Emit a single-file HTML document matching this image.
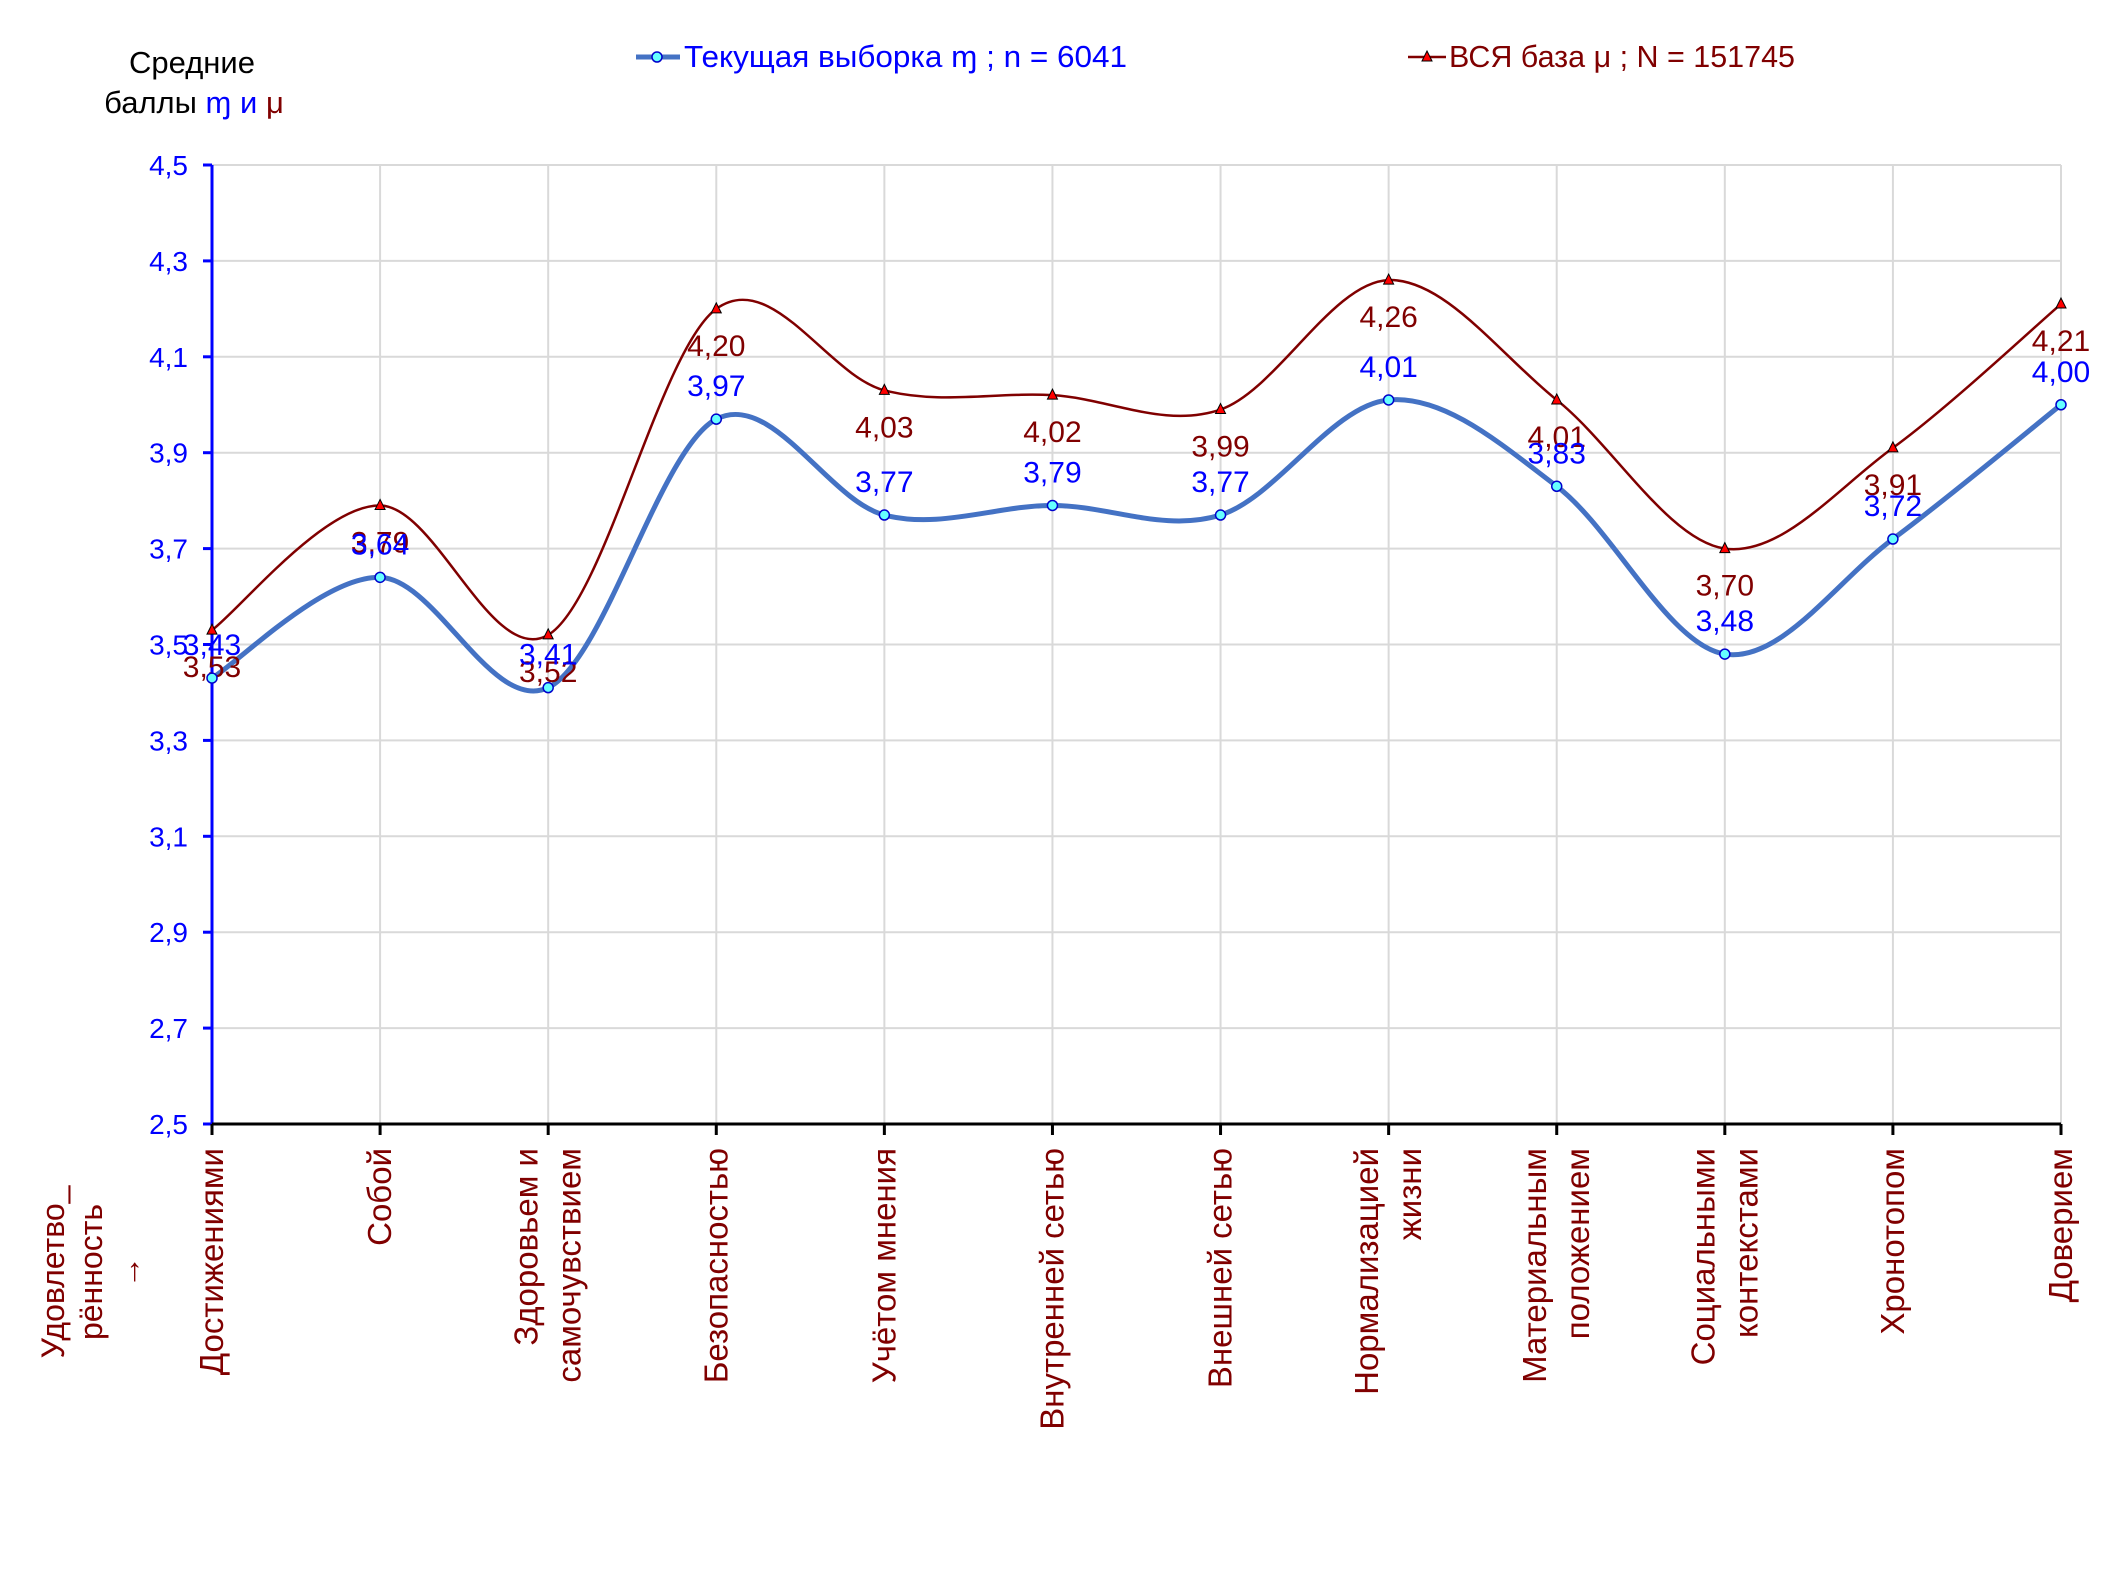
<!DOCTYPE html>
<html><head><meta charset="utf-8">
<style>
html,body{margin:0;padding:0;background:#fff;}
svg{display:block;}
.n{font-family:"Liberation Sans Narrow","Liberation Sans",sans-serif;}
.w{font-family:"Liberation Sans",sans-serif;}
</style></head>
<body>
<svg id="chart" width="2126" height="1595" viewBox="0 0 2126 1595" xmlns="http://www.w3.org/2000/svg">
<g id="grid"></g>
<g id="yaxis"></g>
<g id="xaxis"></g>
<g id="series"></g>
<text class="n" x="192" y="73" font-size="31" text-anchor="middle" fill="#000">Средние</text>
<text class="n" x="194" y="113" font-size="31" text-anchor="middle" fill="#000">баллы <tspan fill="#0000ff">ɱ</tspan> <tspan fill="#0000ff">и</tspan> <tspan fill="#800000">μ</tspan></text>
<g>
<line x1="636" y1="57" x2="680" y2="57" stroke="#4472c4" stroke-width="5"/>
<circle cx="657" cy="57" r="5" fill="#66ffff" stroke="#0000cc" stroke-width="1.5"/>
<text class="n" x="684" y="67" font-size="31" fill="#0000ff" textLength="443" lengthAdjust="spacingAndGlyphs">Текущая выборка ɱ ; n = 6041</text>
</g>
<g>
<line x1="1408" y1="57" x2="1446" y2="57" stroke="#800000" stroke-width="2.5"/>
<path d="M1427,51 L1432,61 L1422,61 Z" fill="#ff0000" stroke="#000" stroke-width="1"/>
<text class="n" x="1449" y="67" font-size="31" fill="#800000" textLength="346" lengthAdjust="spacingAndGlyphs">ВСЯ база μ ; N = 151745</text>
</g>
<g transform="translate(0,1272) rotate(-90)" fill="#800000" font-size="32" class="w" text-anchor="middle">
<text x="0" y="64">Удовлетво_</text>
<text x="0" y="102">рённость</text>
<text x="0" y="140">→</text>
</g>
</svg>
<script>
const categories=[["Достижениями"],["Собой"],["Здоровьем и","самочувствием"],["Безопасностью"],["Учётом мнения"],["Внутренней сетью"],["Внешней сетью"],["Нормализацией","жизни"],["Материальным","положением"],["Социальными","контекстами"],["Хронотопом"],["Доверием"]];
const currentValues=[3.43,3.64,3.41,3.97,3.77,3.79,3.77,4.01,3.83,3.48,3.72,4.00];
const allValues=[3.53,3.79,3.52,4.20,4.03,4.02,3.99,4.26,4.01,3.70,3.91,4.21];
const yTicks=[2.5,2.7,2.9,3.1,3.3,3.5,3.7,3.9,4.1,4.3,4.5];

const NS="http://www.w3.org/2000/svg";
const L=212,R=2061,T=165,B=1124,YMIN=2.5,YMAX=4.5;
const xs=i=>L+(R-L)*i/(categories.length-1);
const ys=v=>B-(v-YMIN)/(YMAX-YMIN)*(B-T);
function mk(tag,attrs,parent){const e=document.createElementNS(NS,tag);for(const k in attrs)e.setAttribute(k,attrs[k]);parent.appendChild(e);return e;}
const grid=document.getElementById('grid'),yax=document.getElementById('yaxis'),xax=document.getElementById('xaxis'),ser=document.getElementById('series');
const fmt=v=>v.toFixed(2).replace('.',',');
yTicks.forEach(t=>{
  const y=ys(t);
  if(t>YMIN){const g=mk('line',{x1:L,x2:R,y1:y,y2:y,stroke:'#d9d9d9','stroke-width':2},grid);
  
  }
  const tk=mk('line',{x1:L-9,x2:L,y1:y,y2:y,stroke:'#0000ff','stroke-width':3},yax);
  
  
  const lb=mk('text',{x:188,y:y+10,'font-size':28,'text-anchor':'end',fill:'#0000ff','class':'n'},yax);
  lb.textContent=t.toFixed(1).replace('.',',');
  
  
});
categories.forEach((c,i)=>{
  const x=xs(i);
  if(i>0){const g=mk('line',{x1:x,x2:x,y1:T,y2:B,stroke:'#d9d9d9','stroke-width':2},grid);
  
  }
  const tk=mk('line',{x1:x,x2:x,y1:B,y2:B+11,stroke:'#000','stroke-width':3},xax);
  
  
  const g=mk('g',{transform:`translate(${x},1148) rotate(-90)`,fill:'#800000','font-size':33,'class':'w','text-anchor':'end'},xax);
  
  
  const n=c.length;
  c.forEach((s,j)=>{const t=mk('text',{x:0,y:11+(j-(n-1)/2)*43},g);t.textContent=s;});
});
const ya=mk('line',{x1:L,x2:L,y1:T,y2:B,stroke:'#0000ff','stroke-width':3},yax);


const xa=mk('line',{x1:L,x2:R,y1:B,y2:B,stroke:'#000','stroke-width':3},xax);



function smooth(vals){
  const p=vals.map((v,i)=>[xs(i),ys(v)]);
  let d=`M${p[0][0]},${p[0][1]}`;
  for(let i=0;i<p.length-1;i++){
    const p0=p[i-1]||p[i],p1=p[i],p2=p[i+1],p3=p[i+2]||p[i+1];
    const c1=[p1[0]+(p2[0]-p0[0])/6,p1[1]+(p2[1]-p0[1])/6];
    const c2=[p2[0]-(p3[0]-p1[0])/6,p2[1]-(p3[1]-p1[1])/6];
    d+=` C${c1[0]},${c1[1]} ${c2[0]},${c2[1]} ${p2[0]},${p2[1]}`;
  }
  return d;
}
const lineAll=mk('path',{d:smooth(allValues),fill:'none',stroke:'#800000','stroke-width':2.5},ser);


const lineCur=mk('path',{d:smooth(currentValues),fill:'none',stroke:'#4472c4','stroke-width':5},ser);


allValues.forEach((v,i)=>{
  const x=xs(i),y=ys(v);
  const m=mk('path',{d:`M${x},${y-6} L${x+5},${y+4} L${x-5},${y+4} Z`,fill:'#ff0000',stroke:'#000','stroke-width':1},ser);
  
  
  const t=mk('text',{x:x,y:y+47,'font-size':30,'text-anchor':'middle',fill:'#800000','class':'n'},ser);
  t.textContent=fmt(v);
  
  
});
currentValues.forEach((v,i)=>{
  const x=xs(i),y=ys(v);
  const m=mk('circle',{cx:x,cy:y,r:5,fill:'#66ffff',stroke:'#0000cc','stroke-width':1.5},ser);
  
  
  const t=mk('text',{x:x,y:y-23,'font-size':30,'text-anchor':'middle',fill:'#0000ff','class':'n'},ser);
  t.textContent=fmt(v);
  
  
});
</script>
</body></html>
